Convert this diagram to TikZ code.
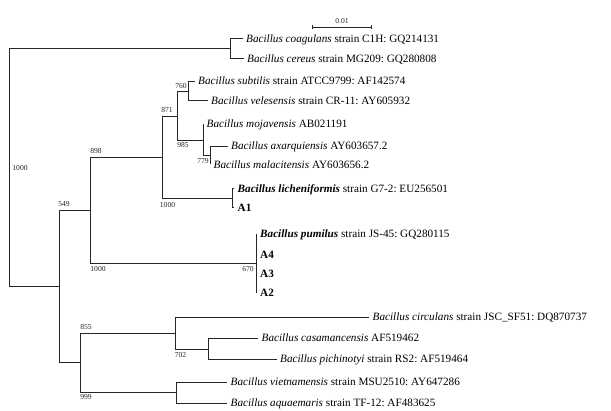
\documentclass[tikz,border=0pt]{standalone}
\usepackage{fontspec}
\setmainfont{Liberation Serif}
\frenchspacing
\begin{document}
\begin{tikzpicture}[x=1pt,y=-1pt,
  br/.style={draw=black!85, line width=0.8pt},
  leaf/.style={anchor=west, inner xsep=3.5pt, inner ysep=0pt, text height=7.2pt, text depth=0pt, font=\fontsize{11.2}{12}\selectfont},
  bs/.style={inner sep=0pt, font=\fontsize{7.6}{8}\selectfont, text=black!85},
]
\useasboundingbox (0,0) rectangle (611,411);
% internal nodes
\coordinate (R) at (9,167);
\coordinate (CC) at (230,48.5);
\coordinate (N549) at (59,286);
\coordinate (N898) at (90,210.5);
\coordinate (N1) at (162,157.5);
\coordinate (N2) at (177,116.5);
\coordinate (N3) at (188,91);
\coordinate (N4) at (203,140);
\coordinate (N5) at (210,155);
\coordinate (LA) at (232,198.5);
\coordinate (PU) at (256.5,263.5);
\coordinate (N855) at (80,362.5);
\coordinate (N702) at (175,333);
\coordinate (NCP) at (208,349);
\coordinate (NVA) at (176,392.5);
% leaves
\node[leaf] (coag) at (242.5,38.5) {\textit{Bacillus coagulans} strain C1H: GQ214131};
\node[leaf] (cere) at (243.5,58.5) {\textit{Bacillus cereus} strain MG209: GQ280808};
\node[leaf] (subt) at (194.5,81) {\textit{Bacillus subtilis} strain ATCC9799: AF142574};
\node[leaf] (vele) at (207.5,100.5) {\textit{Bacillus velesensis} strain CR-11: AY605932};
\node[leaf] (moja) at (203,124) {\textit{Bacillus mojavensis} AB021191};
\node[leaf] (axar) at (227.5,146) {\textit{Bacillus axarquiensis} AY603657.2};
\node[leaf] (mala) at (210,164.5) {\textit{Bacillus malacitensis} AY603656.2};
\node[leaf] (lich) at (234,188.5) {\textbf{\textit{Bacillus licheniformis}} strain G7-2: EU256501};
\node[leaf] (A1) at (234,207.5) {\textbf{A1}};
\node[leaf] (pumi) at (256.5,234) {\textbf{\textit{Bacillus pumilus}} strain JS-45: GQ280115};
\node[leaf] (A4) at (256.5,254.5) {\textbf{A4}};
\node[leaf] (A3) at (256.5,274) {\textbf{A3}};
\node[leaf] (A2) at (256.5,293) {\textbf{A2}};
\node[leaf] (circ) at (369,317) {\textit{Bacillus circulans} strain JSC\_SF51: DQ870737};
\node[leaf] (casa) at (258,338) {\textit{Bacillus casamancensis} AF519462};
\node[leaf] (pich) at (276.5,359) {\textit{Bacillus pichinotyi} strain RS2: AF519464};
\node[leaf] (viet) at (227,382) {\textit{Bacillus vietnamensis} strain MSU2510: AY647286};
\node[leaf] (aqua) at (227,403) {\textit{Bacillus aquaemaris} strain TF-12: AF483625};
% branches
\draw[br] (R) |- (CC);
\draw[br] (R) |- (N549);
\draw[br] (CC) |- (coag.west);
\draw[br] (CC) |- (cere.west);
\draw[br] (N549) |- (N898);
\draw[br] (N549) |- (N855);
\draw[br] (N898) |- (N1);
\draw[br] (N898) |- (PU);
\draw[br] (N1) |- (N2);
\draw[br] (N1) |- (LA);
\draw[br] (N2) |- (N3);
\draw[br] (N2) |- (N4);
\draw[br] (N3) |- (subt.west);
\draw[br] (N3) |- (vele.west);
\draw[br] (N4) |- (moja.west);
\draw[br] (N4) |- (N5);
\draw[br] (N5) |- (axar.west);
\draw[br] (N5) |- (mala.west);
\draw[br] (LA) |- (lich.west);
\draw[br] (LA) |- (A1.west);
\draw[br] (PU) |- (pumi.west);
\draw[br] (PU) |- (A4.west);
\draw[br] (PU) |- (A3.west);
\draw[br] (PU) |- (A2.west);
\draw[br] (N855) |- (N702);
\draw[br] (N855) |- (NVA);
\draw[br] (N702) |- (circ.west);
\draw[br] (N702) |- (NCP);
\draw[br] (NCP) |- (casa.west);
\draw[br] (NCP) |- (pich.west);
\draw[br] (NVA) |- (viet.west);
\draw[br] (NVA) |- (aqua.west);
% bootstrap values
\node[bs] (b1) at (20,168) {1000};
\node[bs] (b760) at (181,86.5) {760};
\node[bs] (b871) at (167,110.5) {871};
\node[bs] (b985) at (183,145) {985};
\node[bs] (b779) at (203,161) {779};
\node[bs] (b898) at (96,151.5) {898};
\node[bs] (b549) at (64,204) {549};
\node[bs] (b1000a) at (98,269.5) {1000};
\node[bs] (b1000b) at (167.5,205.5) {1000};
\node[bs] (b670) at (248,269.5) {670};
\node[bs] (b855) at (86,327.5) {855};
\node[bs] (b702) at (180.5,355) {702};
\node[bs] (b999) at (86,397.5) {999};
% scale bar
\coordinate (s1) at (312,27);
\coordinate (s2) at (371,27);
\draw[br] (s1) -- (s2);
\draw[br] ([yshift=-2pt]s1) -- ([yshift=2pt]s1);
\draw[br] ([yshift=-2pt]s2) -- ([yshift=2pt]s2);
\node[bs] (sl) at (342,21.5) {0.01};
\end{tikzpicture}
\end{document}
